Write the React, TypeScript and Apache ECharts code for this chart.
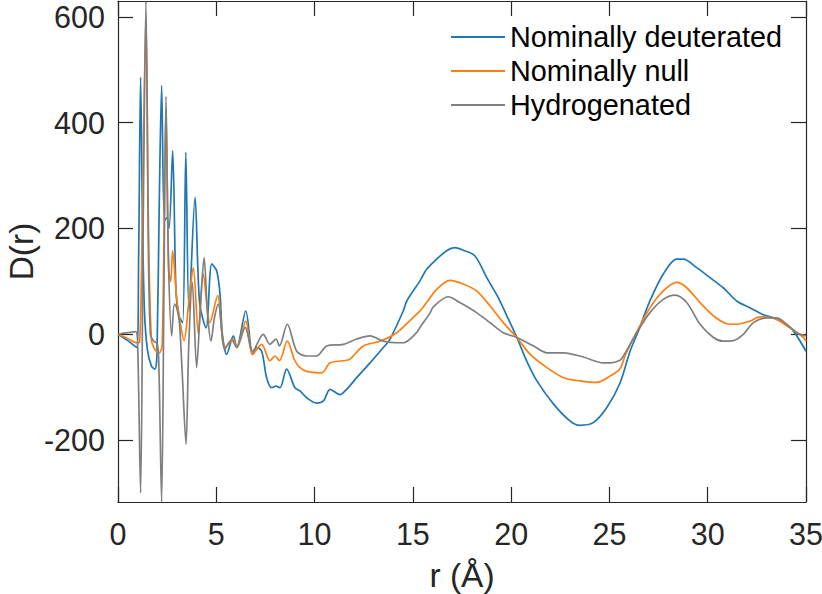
import React, { useEffect, useRef } from "react";
import * as echarts from "echarts";

// ---------- data ----------
const seriesNames = ["Nominally deuterated", "Nominally null", "Hydrogenated"];
const seriesColors = ["#1f77b4", "#ff7f0e", "#7f7f7f"];
const xTickValues = [0, 5, 10, 15, 20, 25, 30, 35];
const yTickValues = [-200, 0, 200, 400, 600];

const blueR = [0, 0.5, 0.95, 1.05, 1.15, 1.25, 1.35, 1.5, 1.7, 1.88, 1.98, 2.1, 2.22, 2.36, 2.5, 2.6, 2.78, 2.95, 3.1, 3.29, 3.45, 3.61, 3.92, 4.15, 4.48, 4.77, 5.02, 5.19, 5.31, 5.53, 5.87, 6.04, 6.5, 6.85, 7.05, 7.31, 7.56, 7.82, 8.04, 8.24, 8.58, 9.0, 9.26, 9.6, 10.1, 10.45, 10.79, 11.29, 11.63, 12.14, 12.82, 13.5, 13.84, 14.51, 14.69, 15.36, 15.7, 16.21, 16.72, 17.14, 17.56, 18.16, 18.76, 19.35, 19.78, 20.29, 20.8, 21.31, 22.16, 23.0, 23.5, 24.18, 24.86, 25.54, 26.05, 26.47, 27.06, 27.74, 28.42, 28.76, 29.44, 30.12, 30.79, 31.47, 32.15, 32.83, 33.34, 33.85, 34.36, 35];
const blueD = [0, -12, -25, 150, 486, 200, 40, -30, -60, -66, -40, 250, 470, 215, 220, 200, 347, 80, 35, 22, 344, 44, 259, 60, 12, 133, 120, 76, 0, -38, -3, -25, 44, -38, -25, -32, -82, -101, -98, -101, -66, -101, -107, -120, -130, -126, -104, -114, -104, -82, -54, -25, -9, 44, 63, 101, 123, 142, 158, 164, 159, 148, 107, 69, 35, -6, -51, -88, -132, -164, -172, -167, -139, -92, -32, 6, 63, 114, 142, 142, 126, 107, 88, 63, 50, 37, 31, 22, 6, -32];

const orangeR = [0, 0.5, 0.95, 1.1, 1.25, 1.42, 1.55, 1.7, 1.9, 2.1, 2.25, 2.44, 2.58, 2.68, 2.78, 2.98, 3.15, 3.36, 3.6, 3.83, 4.09, 4.34, 4.68, 5.07, 5.44, 5.87, 6.04, 6.5, 6.85, 7.31, 7.73, 7.99, 8.21, 8.61, 9.0, 9.26, 9.6, 10.36, 10.79, 11.46, 11.8, 12.48, 13.33, 14.18, 15.02, 15.36, 15.7, 16.21, 16.89, 17.56, 18.24, 18.92, 19.6, 20.29, 20.97, 21.82, 22.67, 23.5, 24.35, 25.03, 25.54, 25.8, 26.39, 27.06, 27.74, 28.42, 28.93, 29.61, 30.29, 30.97, 31.47, 32.15, 32.66, 33.34, 34.02, 34.87, 35];
const orangeD = [0, -8, -16, -15, 250, 600, 200, -10, -30, -35, -20, 420, 120, 100, 158, 70, 25, -12, 60, 126, 0, 114, 22, 73, -25, -10, -25, 25, -38, -19, -50, -41, -50, -13, -50, -63, -70, -73, -54, -50, -47, -22, -13, 3, 32, 44, 60, 85, 102, 95, 82, 54, 22, -6, -38, -63, -82, -88, -91, -79, -65, -40, 5, 50, 82, 98, 88, 60, 35, 20, 19, 25, 33, 31, 16, -6, -13];

const grayR = [0, 0.5, 0.9, 1.0, 1.15, 1.28, 1.42, 1.55, 1.65, 1.8, 2.0, 2.08, 2.22, 2.34, 2.44, 2.56, 2.73, 2.87, 2.98, 3.12, 3.25, 3.46, 3.6, 3.78, 4.0, 4.2, 4.38, 4.55, 4.73, 4.9, 5.1, 5.44, 5.78, 6.04, 6.47, 6.85, 7.39, 7.73, 8.04, 8.21, 8.61, 9.09, 9.6, 10.1, 10.62, 11.46, 12.14, 12.82, 13.5, 14.18, 14.51, 15.19, 15.36, 15.87, 16.04, 16.8, 17.39, 18.24, 18.92, 19.6, 20.29, 21.14, 21.82, 22.67, 23.67, 24.69, 25.03, 25.54, 25.71, 26.39, 27.06, 27.74, 28.34, 28.93, 29.61, 30.29, 30.79, 31.3, 31.81, 32.32, 33.0, 33.51, 34.02, 34.53, 35];
const grayD = [0, 3, 5, -20, -300, 200, 630, 150, 0, -12, -18, -60, -317, 100, 450, 150, -3, 57, 51, 24, -60, -208, -20, 98, -63, 60, 145, 40, -13, 30, 57, -28, -10, -25, 13, -32, 0, -19, -9, -22, 19, -32, -41, -41, -22, -19, -9, -3, -13, -16, -16, 3, 13, 40, 52, 71, 60, 41, 22, 3, -6, -22, -35, -35, -43, -54, -54, -49, -41, 3, 41, 66, 74, 60, 19, -6, -13, -12, 0, 22, 31, 31, 19, 3, -3];

const zip = (xs: number[], ys: number[]) => xs.map((x, i) => [x, ys[i]]);

const FONT = "'Liberation Sans', Arial, Helvetica, sans-serif";
const AXIS_COLOR = "#262626";

export default function App() {
  const ref = useRef<HTMLDivElement>(null);

  useEffect(() => {
    if (!ref.current) return;
    const chart = echarts.init(ref.current, null, { renderer: "svg" });

    const lineStyle = { color: AXIS_COLOR, width: 1.2 };
    const labelStyle = { color: AXIS_COLOR, fontSize: 30.5, fontFamily: FONT };
    const nameStyle = { color: AXIS_COLOR, fontSize: 33.5, fontFamily: FONT };

    const seriesData = [zip(blueR, blueD), zip(orangeR, orangeD), zip(grayR, grayD)];

    chart.setOption({
      animation: false,
      backgroundColor: "#ffffff",
      grid: {
        left: 118,
        right: 16,
        top: 1,
        bottom: 92,
        containLabel: false,
        outerBoundsMode: "none",
      },
      legend: {
        show: true,
        orient: "vertical",
        left: 451,
        top: 20,
        padding: 0,
        itemGap: 0,
        itemWidth: 54,
        itemHeight: 1.8,
        icon: "rect",
        data: seriesNames,
        textStyle: { color: "#000000", fontSize: 28.8, fontFamily: FONT, lineHeight: 34 },
      },
      xAxis: [
        {
          type: "value",
          position: "bottom",
          min: 0,
          max: 35,
          interval: 5,
          name: "r (Å)",
          nameLocation: "middle",
          nameGap: 56,
          nameMoveOverlap: false,
          nameTextStyle: nameStyle,
          axisLine: { show: true, onZero: false, lineStyle },
          axisTick: { show: true, inside: true, length: 15, lineStyle },
          axisLabel: { show: true, margin: 16, ...labelStyle, customValues: xTickValues },
          splitLine: { show: false },
        },
        {
          type: "value",
          position: "top",
          min: 0,
          max: 35,
          interval: 5,
          axisLine: { show: true, onZero: false, lineStyle },
          axisTick: { show: true, inside: true, length: 15, lineStyle },
          axisLabel: { show: false },
          splitLine: { show: false },
        },
      ],
      yAxis: [
        {
          type: "value",
          position: "left",
          min: -317,
          max: 630,
          name: "D(r)",
          nameLocation: "middle",
          nameGap: 82,
          nameMoveOverlap: false,
          nameTextStyle: { ...nameStyle, lineHeight: 30 },
          axisLine: { show: true, onZero: false, lineStyle },
          axisTick: { show: true, inside: true, length: 15, lineStyle, customValues: yTickValues },
          axisLabel: { show: true, margin: 13, ...labelStyle, customValues: yTickValues },
          splitLine: { show: false },
        },
        {
          type: "value",
          position: "right",
          min: -317,
          max: 630,
          axisLine: { show: true, onZero: false, lineStyle },
          axisTick: { show: true, inside: true, length: 15, lineStyle, customValues: yTickValues },
          axisLabel: { show: false },
          splitLine: { show: false },
        },
      ],
      series: seriesNames.map((name, i) => ({
        name,
        type: "line",
        xAxisIndex: 0,
        yAxisIndex: 0,
        data: seriesData[i],
        symbol: "none",
        showSymbol: false,
        smooth: 0.3,
        lineStyle: { color: seriesColors[i], width: 1.7 },
        itemStyle: { color: seriesColors[i] },
        emphasis: { disabled: true },
        z: 2 + i,
      })),
    });

    return () => chart.dispose();
  }, []);

  return (
    <div
      ref={ref}
      style={{ position: "fixed", left: 0, top: 0, width: 822, height: 594 }}
    />
  );
}
